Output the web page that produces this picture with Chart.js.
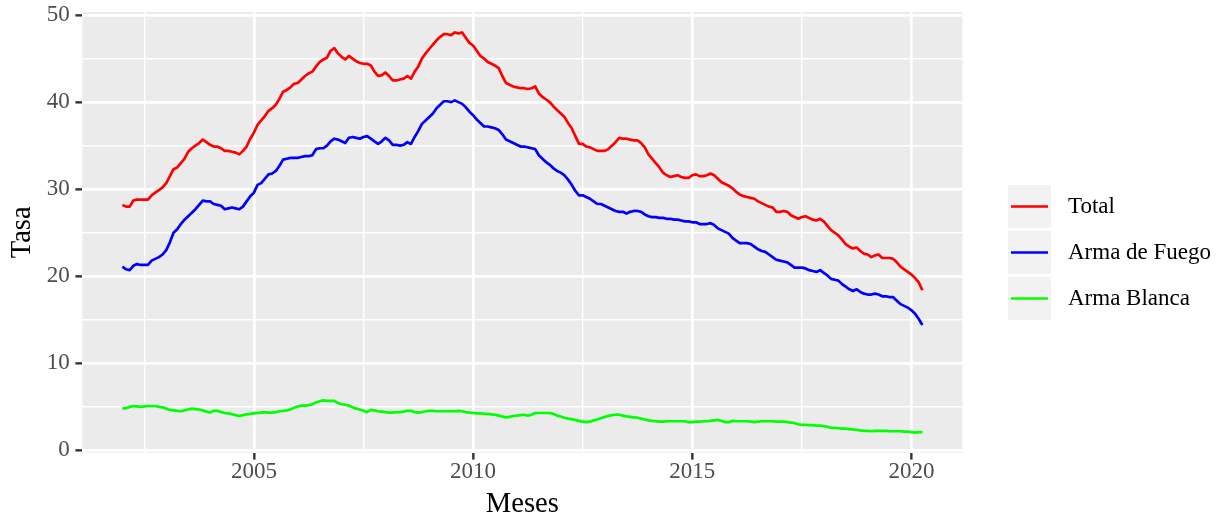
<!DOCTYPE html>
<html>
<head>
<meta charset="utf-8">
<script src="https://cdn.jsdelivr.net/npm/chart.js@4"></script>
<style>
  body { margin: 0; background: #ffffff; }
  #grafico { display: block; }
</style>
</head>
<body>
<canvas id="grafico" width="1224" height="522"></canvas>
<script>
// tasas mensuales, enero 2002 - abril 2020 (una fila por año)
const total = [
  28.2, 28.0, 28.0, 28.7, 28.8, 28.8, 28.8, 28.8, 29.3, 29.6, 29.9, 30.2,
  30.7, 31.5, 32.3, 32.5, 33.0, 33.5, 34.3, 34.7, 35.0, 35.3, 35.7, 35.4,
  35.1, 34.9, 34.9, 34.7, 34.4, 34.4, 34.3, 34.2, 34.0, 34.4, 34.9, 35.8,
  36.5, 37.4, 37.9, 38.4, 39.0, 39.3, 39.7, 40.4, 41.2, 41.4, 41.7, 42.1,
  42.2, 42.6, 43.0, 43.3, 43.5, 44.1, 44.6, 44.9, 45.1, 45.9, 46.2, 45.6,
  45.2, 44.9, 45.3, 45.0, 44.7, 44.5, 44.4, 44.4, 44.2, 43.5, 43.0, 43.1,
  43.4, 43.0, 42.5, 42.5, 42.6, 42.7, 43.0, 42.7, 43.5, 44.1, 45.0, 45.6,
  46.1, 46.6, 47.1, 47.5, 47.8, 47.8, 47.7, 48.0, 47.9, 48.0, 47.4, 46.8,
  46.5, 45.9, 45.3, 45.0, 44.6, 44.4, 44.2, 43.9, 43.0, 42.2, 42.0, 41.8,
  41.7, 41.6, 41.6, 41.5, 41.6, 41.8, 41.0, 40.6, 40.3, 40.0, 39.5, 39.1,
  38.7, 38.3, 37.6, 37.0, 36.1, 35.2, 35.2, 34.9, 34.8, 34.6, 34.4, 34.4,
  34.4, 34.6, 35.0, 35.4, 35.9, 35.8, 35.8, 35.7, 35.6, 35.6, 35.3, 34.8,
  34.0, 33.5, 33.0, 32.5, 31.9, 31.6, 31.4, 31.5, 31.6, 31.4, 31.3, 31.3,
  31.6, 31.7, 31.5, 31.5, 31.6, 31.8, 31.6, 31.2, 30.8, 30.6, 30.4, 30.1,
  29.7, 29.4, 29.2, 29.1, 29.0, 28.9, 28.6, 28.4, 28.2, 28.0, 27.9, 27.4,
  27.4, 27.5, 27.4, 27.0, 26.8, 26.6, 26.8, 26.9, 26.7, 26.5, 26.4, 26.6,
  26.3, 25.8, 25.3, 25.0, 24.7, 24.2, 23.7, 23.4, 23.2, 23.3, 22.9, 22.6,
  22.5, 22.2, 22.4, 22.5, 22.1, 22.1, 22.1, 22.0, 21.6, 21.1, 20.8, 20.5,
  20.2, 19.8, 19.3, 18.4
];

const armaFuego = [
  21.1, 20.8, 20.7, 21.2, 21.4, 21.3, 21.3, 21.3, 21.8, 22.0, 22.2, 22.5,
  23.0, 23.9, 25.0, 25.4, 26.0, 26.5, 26.9, 27.3, 27.7, 28.2, 28.7, 28.6,
  28.6, 28.3, 28.2, 28.1, 27.7, 27.8, 27.9, 27.8, 27.7, 28.0, 28.6, 29.2,
  29.6, 30.5, 30.7, 31.2, 31.7, 31.8, 32.1, 32.7, 33.4, 33.5, 33.6, 33.6,
  33.6, 33.7, 33.8, 33.8, 33.9, 34.6, 34.7, 34.7, 35.0, 35.5, 35.8, 35.7,
  35.5, 35.3, 35.9, 36.0, 35.9, 35.8, 36.0, 36.1, 35.8, 35.5, 35.2, 35.5,
  35.9, 35.6, 35.1, 35.1, 35.0, 35.1, 35.4, 35.2, 36.0, 36.7, 37.5, 37.9,
  38.3, 38.7, 39.3, 39.7, 40.1, 40.1, 40.0, 40.2, 40.0, 39.8, 39.4, 38.9,
  38.5, 38.0, 37.6, 37.2, 37.2, 37.1, 37.0, 36.8, 36.3, 35.7, 35.5, 35.3,
  35.1, 34.9, 34.9, 34.8, 34.7, 34.6, 33.9, 33.5, 33.1, 32.8, 32.4, 32.1,
  31.9, 31.6, 31.1, 30.5, 29.8, 29.3, 29.3, 29.1, 28.9, 28.6, 28.3, 28.3,
  28.1, 27.9, 27.7, 27.5, 27.4, 27.4, 27.2, 27.4, 27.5, 27.5, 27.4, 27.1,
  26.9, 26.8, 26.8, 26.7, 26.7, 26.6, 26.6, 26.5, 26.5, 26.4, 26.3, 26.3,
  26.2, 26.2, 26.0, 26.0, 26.0, 26.1, 25.9, 25.5, 25.3, 25.1, 24.9, 24.4,
  24.1, 23.8, 23.8, 23.8, 23.7, 23.4, 23.1, 22.9, 22.8, 22.5, 22.2, 21.9,
  21.8, 21.7, 21.6, 21.3, 21.0, 21.0, 21.0, 20.9, 20.7, 20.6, 20.5, 20.7,
  20.4, 20.1, 19.7, 19.6, 19.5, 19.1, 18.8, 18.5, 18.3, 18.5, 18.2, 18.0,
  17.9, 17.9, 18.0, 17.9, 17.7, 17.7, 17.6, 17.6, 17.2, 16.8, 16.6, 16.4,
  16.1, 15.7, 15.1, 14.4
];

const armaBlanca = [
  4.8, 4.85, 5.0, 5.1, 5.05, 5.0, 5.05, 5.1, 5.1, 5.1, 5.0, 4.95,
  4.8, 4.65, 4.6, 4.55, 4.5, 4.6, 4.7, 4.8, 4.75, 4.7, 4.6, 4.45,
  4.35, 4.55, 4.55, 4.4, 4.3, 4.25, 4.15, 4.05, 3.95, 4.05, 4.15, 4.2,
  4.25, 4.3, 4.35, 4.4, 4.35, 4.35, 4.4, 4.5, 4.55, 4.6, 4.7, 4.9,
  5.05, 5.15, 5.15, 5.2, 5.3, 5.5, 5.65, 5.75, 5.7, 5.7, 5.7, 5.45,
  5.3, 5.25, 5.15, 4.95, 4.8, 4.7, 4.55, 4.4, 4.65, 4.6, 4.5, 4.45,
  4.4, 4.35, 4.35, 4.4, 4.4, 4.45, 4.55, 4.55, 4.4, 4.35, 4.4, 4.5,
  4.55, 4.55, 4.5, 4.5, 4.5, 4.5, 4.5, 4.5, 4.55, 4.5, 4.4, 4.35,
  4.3, 4.25, 4.25, 4.2, 4.2, 4.15, 4.1, 4.0, 3.9, 3.8, 3.85, 3.95,
  4.0, 4.05, 4.1, 4.0, 4.1, 4.3, 4.3, 4.3, 4.3, 4.3, 4.2, 4.0,
  3.9, 3.75, 3.65, 3.6, 3.5, 3.4, 3.3, 3.25, 3.3, 3.45, 3.55, 3.7,
  3.85, 3.95, 4.05, 4.1, 4.1, 4.0, 3.9, 3.85, 3.8, 3.75, 3.65, 3.55,
  3.45, 3.4, 3.35, 3.3, 3.3, 3.35, 3.35, 3.35, 3.35, 3.35, 3.35, 3.25,
  3.25, 3.3, 3.3, 3.35, 3.35, 3.4, 3.45, 3.5, 3.4, 3.25, 3.25, 3.4,
  3.35, 3.35, 3.35, 3.35, 3.3, 3.25, 3.3, 3.35, 3.35, 3.35, 3.35, 3.3,
  3.3, 3.3, 3.25, 3.2, 3.15, 3.0, 2.95, 2.95, 2.9, 2.9, 2.85, 2.85,
  2.8, 2.7, 2.6, 2.6, 2.55, 2.5, 2.5, 2.45, 2.4, 2.35, 2.3, 2.25,
  2.25, 2.2, 2.25, 2.25, 2.25, 2.25, 2.2, 2.2, 2.2, 2.2, 2.15, 2.15,
  2.1, 2.05, 2.1, 2.1
];

// meses como año decimal (ene 2002 = 2002.0)
const meses = total.map((v, i) => 2002 + i / 12);

const series = ["Total", "Arma de Fuego", "Arma Blanca"];
const colores = ["#FF0000", "#0000FF", "#00FF00"];

const ticksX = [2002.5, 2005, 2007.5, 2010, 2012.5, 2015, 2017.5, 2020];
const ticksY = [0, 5, 10, 15, 20, 25, 30, 35, 40, 45, 50];

const fuente = "'Liberation Serif', 'Times New Roman', serif";

function puntos(valores) {
  return valores.map((v, i) => ({ x: meses[i], y: v }));
}

// fondo gris del panel
const fondoPanel = {
  id: "fondoPanel",
  beforeDraw(chart) {
    const { ctx, chartArea } = chart;
    ctx.save();
    ctx.fillStyle = "#EBEBEB";
    ctx.fillRect(chartArea.left, chartArea.top,
      chartArea.right - chartArea.left, chartArea.bottom - chartArea.top);
    ctx.restore();
  }
};

// leyenda al estilo ggplot
const leyenda = {
  id: "leyenda",
  afterDraw(chart) {
    const ctx = chart.ctx;
    ctx.save();
    chart.data.datasets.forEach((ds, i) => {
      let top = 185 + i * 46;
      ctx.fillStyle = "#F2F2F2";
      ctx.fillRect(1008, top, 43, 43);
      ctx.strokeStyle = ds.borderColor;
      ctx.lineWidth = 2.7;
      ctx.beginPath();
      ctx.moveTo(1011, top + 21.5);
      ctx.lineTo(1048, top + 21.5);
      ctx.stroke();
      ctx.fillStyle = "#000000";
      ctx.font = "23px " + fuente;
      ctx.textBaseline = "middle";
      ctx.textAlign = "left";
      ctx.fillText(ds.label, 1068, top + 22);
    });
    ctx.restore();
  }
};

function esMayor(v, paso) {
  return Math.abs(v / paso - Math.round(v / paso)) < 1e-6;
}

new Chart(document.getElementById("grafico").getContext("2d"), {
  type: "line",
  data: {
    datasets: [
      { label: series[0], data: puntos(total), borderColor: colores[0] },
      { label: series[1], data: puntos(armaFuego), borderColor: colores[1] },
      { label: series[2], data: puntos(armaBlanca), borderColor: colores[2] }
    ]
  },
  options: {
    responsive: false,
    animation: false,
    devicePixelRatio: 1,
    layout: { padding: { left: 0, top: 12, right: 261.6, bottom: 0 } },
    elements: {
      point: { radius: 0 },
      line: { borderWidth: 2.7, tension: 0, borderJoinStyle: "round", borderCapStyle: "butt" }
    },
    plugins: {
      legend: { display: false },
      tooltip: { enabled: false }
    },
    scales: {
      x: {
        type: "linear",
        min: 2001.0875,
        max: 2021.1625,
        afterBuildTicks: (scale) => { scale.ticks = ticksX.map(v => ({ value: v })); },
        afterFit: (scale) => {
          scale.height = 69.4;
          scale.paddingLeft = 0;
          scale.paddingRight = 0;
        },
        border: { display: false },
        grid: {
          color: "#FFFFFF",
          lineWidth: (c) => (c.tick && esMayor(c.tick.value, 5) ? 2.7 : 1.4),
          tickColor: (c) => (c.tick && esMayor(c.tick.value, 5) ? "#333333" : "rgba(0,0,0,0)"),
          tickWidth: 2.4,
          tickLength: 7
        },
        ticks: {
          autoSkip: false,
          maxRotation: 0,
          minRotation: 0,
          padding: 1,
          color: "#4D4D4D",
          font: { family: fuente, size: 23, lineHeight: 1 },
          callback: (v) => (esMayor(v, 5) ? String(v) : "")
        },
        title: {
          display: true,
          text: "Meses",
          color: "#000000",
          font: { family: fuente, size: 28.6, lineHeight: 1.2 },
          padding: { top: 0, bottom: 0.5 }
        }
      },
      y: {
        min: -0.25,
        max: 50.35,
        afterBuildTicks: (scale) => { scale.ticks = ticksY.map(v => ({ value: v })); },
        afterFit: (scale) => {
          scale.width = 82.4;
          scale.paddingTop = 0;
          scale.paddingBottom = 0;
        },
        border: { display: false },
        grid: {
          color: "#FFFFFF",
          lineWidth: (c) => (c.tick && esMayor(c.tick.value, 10) ? 2.7 : 1.4),
          tickColor: (c) => (c.tick && esMayor(c.tick.value, 10) ? "#333333" : "rgba(0,0,0,0)"),
          tickWidth: 2.4,
          tickLength: 7
        },
        ticks: {
          autoSkip: false,
          padding: 5.7,
          color: "#4D4D4D",
          font: { family: fuente, size: 23 },
          callback: (v) => (esMayor(v, 10) ? String(v) : "")
        },
        title: {
          display: true,
          text: "Tasa",
          color: "#000000",
          font: { family: fuente, size: 28.6, lineHeight: 1.2 },
          padding: { top: 5, bottom: 0 }
        }
      }
    }
  },
  plugins: [fondoPanel, leyenda]
});
</script>
</body>
</html>
